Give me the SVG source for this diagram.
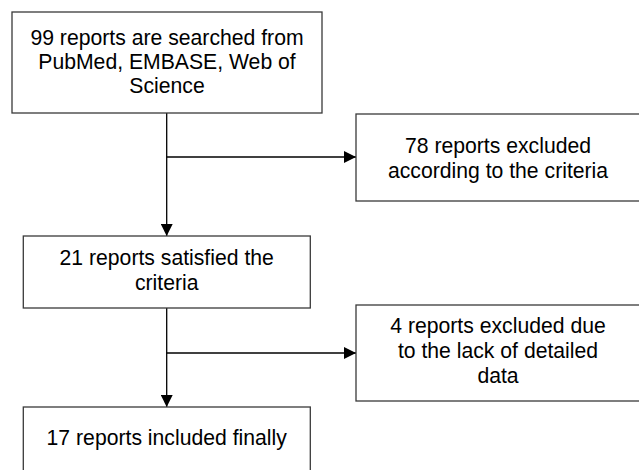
<svg xmlns="http://www.w3.org/2000/svg" width="639" height="470" viewBox="0 0 639 470">
<style>
.box{fill:#fff;stroke:#3a3a3a;stroke-width:1.3}
.t{font-family:"Liberation Sans",Arial,sans-serif;font-size:22.2px;fill:#000;text-anchor:middle}
.c{fill:none;stroke:#000;stroke-width:1.3}
</style>
<defs>
<marker id="ah" markerUnits="userSpaceOnUse" markerWidth="12" markerHeight="12" viewBox="0 0 12 12" refX="12" refY="6" orient="auto">
<path d="M0,0 L12,6 L0,12 Z" fill="#000"/>
</marker>
</defs>
<rect width="639" height="470" fill="#fff"/>
<g id="connectors">
<line class="c" x1="166.7" y1="113" x2="166.7" y2="236" marker-end="url(#ah)"/>
<line class="c" x1="166.7" y1="157" x2="356" y2="157" marker-end="url(#ah)"/>
<line class="c" x1="166.7" y1="308" x2="166.7" y2="407" marker-end="url(#ah)"/>
<line class="c" x1="166.7" y1="353" x2="356" y2="353" marker-end="url(#ah)"/>
</g>
<g id="n1">
<rect class="box" x="12" y="12" width="310" height="101"/>
<g transform="translate(167,0) scale(0.955,1)">
<text class="t" x="0" y="45.5">99 reports are searched from</text>
<text class="t" x="0" y="69.5">PubMed, EMBASE, Web of</text>
<text class="t" x="0" y="93.5">Science</text>
</g>
</g>
<g id="n2">
<rect class="box" x="356" y="114" width="284" height="87"/>
<g transform="translate(498,0) scale(0.955,1)">
<text class="t" x="0" y="153">78 reports excluded</text>
<text class="t" x="0" y="178">according to the criteria</text>
</g>
</g>
<g id="n3">
<rect class="box" x="23.3" y="236" width="287" height="72"/>
<g transform="translate(166.7,0) scale(0.955,1)">
<text class="t" x="0" y="265">21 reports satisfied the</text>
<text class="t" x="0" y="290">criteria</text>
</g>
</g>
<g id="n4">
<rect class="box" x="356" y="305" width="284" height="96"/>
<g transform="translate(498,0) scale(0.955,1)">
<text class="t" x="0" y="333">4 reports excluded due</text>
<text class="t" x="0" y="358">to the lack of detailed</text>
<text class="t" x="0" y="383">data</text>
</g>
</g>
<g id="n5">
<rect class="box" x="23.3" y="407" width="287" height="80"/>
<g transform="translate(166.7,0) scale(0.955,1)">
<text class="t" x="0" y="445">17 reports included finally</text>
</g>
</g>
</svg>
